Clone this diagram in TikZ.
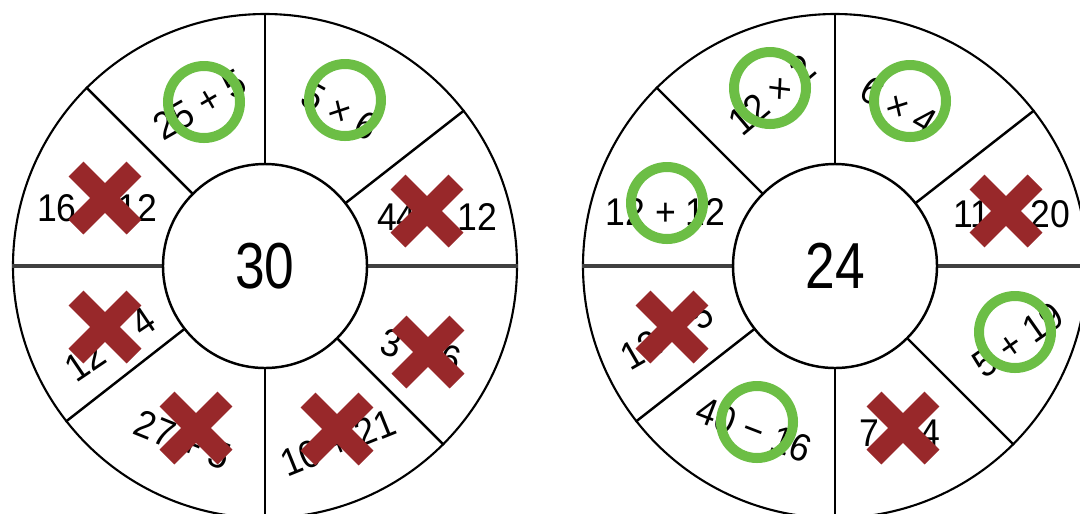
\documentclass[tikz,border=0pt]{standalone}
\usepackage{fontspec}
\setmainfont{Liberation Sans}
\newfontfamily\hubfont[FakeStretch=0.82]{Liberation Sans}
\newfontfamily\sumfont[FakeStretch=0.92]{Liberation Sans}
\usepackage{tikz}
\usetikzlibrary{positioning}
\definecolor{okgreen}{RGB}{108,190,69}
\definecolor{wrongred}{RGB}{152,40,42}

\begin{document}
\begin{tikzpicture}[
    rim/.style={draw, circle, line width=0.6pt, minimum size=5.04cm, inner sep=0pt},
    hub/.style={draw, circle, fill=white, line width=0.7pt, minimum size=2.04cm, inner sep=0pt, font=\hubfont\fontsize{18.5}{20}\selectfont},
    spoke/.style={line width=0.7pt},
    axisline/.style={line width=1.1pt, black!75},
    sum/.style={inner sep=0pt, font=\sumfont\fontsize{11}{12}\selectfont},
    okmark/.style={draw=okgreen, circle, line width=0.1cm, minimum size=0.72cm, inner sep=0pt},
    wrong/.pic={\draw[wrongred, line width=0.21cm] (-0.29,-0.29) -- (0.29,0.29) (-0.29,0.29) -- (0.29,-0.29);}
]
\useasboundingbox (-2.65,-2.47) rectangle (8.15,2.66);
\clip (-2.65,-2.47) rectangle (8.15,2.66);

% Wheel 30
\node[rim] (rimA) at (0,0) {};
\draw[axisline] (rimA.west) -- (rimA.east);
\draw[spoke] (rimA.north) -- (rimA.south);
\draw[spoke] (rimA.38.5) -- (rimA.218.5);
\draw[spoke] (rimA.135) -- (rimA.315);
\node[hub] (hubA) at (0,0) {30};

\node[sum, rotate=30] (a1) at (-0.65,1.615) {25 + 5};
\node[sum, rotate=-29] (a2) at (0.75,1.55) {5 × 6};
\node[sum] (a3) at (1.72,0.49) {44 − 12};
\node[sum] (a4) at (-1.68,0.58) {16 + 12};
\node[sum, rotate=34] (a5) at (-1.55,-0.78) {12 + 4};
\node[sum, rotate=-22] (a6) at (-0.82,-1.74) {27 + 5};
\node[sum, rotate=22] (a7) at (0.73,-1.77) {10 + 21};
\node[sum, rotate=-15] (a8) at (1.56,-0.85) {3 × 6};

\node[okmark] (okA1) at (-0.61,1.64) {};
\node[okmark] (okA2) at (0.80,1.66) {};
\pic at (1.62,0.55) {wrong};
\pic at (-1.60,0.68) {wrong};
\pic at (-1.60,-0.61) {wrong};
\pic at (-0.69,-1.62) {wrong};
\pic at (0.72,-1.63) {wrong};
\pic at (1.63,-0.86) {wrong};

% Wheel 24
\node[rim] (rimB) at (5.70,0) {};
\draw[axisline] (rimB.west) -- (rimB.east);
\draw[spoke] (rimB.north) -- (rimB.south);
\draw[spoke] (rimB.38.5) -- (rimB.218.5);
\draw[spoke] (rimB.135) -- (rimB.315);
\node[hub] (hubB) at (5.70,0) {24};

\node[sum, rotate=40] (b1) at (5.07,1.71) {12 × 2};
\node[sum, rotate=-30] (b2) at (6.335,1.60) {6 × 4};
\node[sum] (b3) at (4.005,0.54) {12 + 12};
\node[sum] (b4) at (7.47,0.52) {11 + 20};
\node[sum, rotate=30] (b5) at (4.02,-0.69) {12 + 5};
\node[sum, rotate=-21] (b6) at (4.89,-1.64) {40 − 16};
\node[sum] (b7) at (6.35,-1.67) {7 × 4};
\node[sum, rotate=35] (b8) at (7.53,-0.74) {5 + 19};

\node[okmark] (okB1) at (5.05,1.78) {};
\node[okmark] (okB2) at (6.45,1.65) {};
\node[okmark] (okB3) at (4.02,0.63) {};
\node[okmark] (okB4) at (4.92,-1.56) {};
\node[okmark] (okB5) at (7.50,-0.66) {};
\pic at (7.41,0.55) {wrong};
\pic at (4.07,-0.61) {wrong};
\pic at (6.38,-1.62) {wrong};

\end{tikzpicture}
\end{document}
